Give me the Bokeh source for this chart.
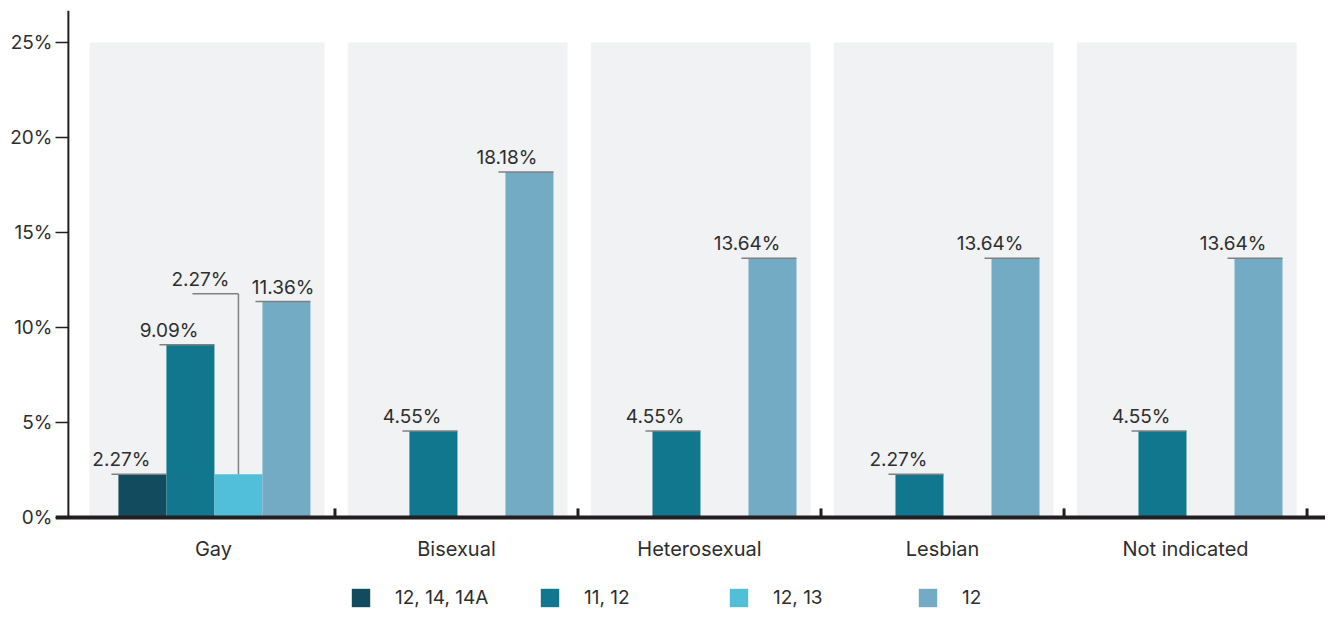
from bokeh.plotting import figure
from bokeh.models import Range1d, FixedTicker, Legend, LegendItem
from bokeh.core.properties import value
from bokeh.embed import file_html
from bokeh.resources import INLINE

categories = ["Gay", "Bisexual", "Heterosexual", "Lesbian", "Not indicated"]
series_names = ["12, 14, 14A", "11, 12", "12, 13", "12"]
s_12_14_14a = [2.27, None, None, None, None]
s_11_12 = [9.09, 4.55, 4.55, 2.27, 4.55]
s_12_13 = [2.27, None, None, None, None]
s_12 = [11.36, 18.18, 13.64, 13.64, 13.64]
y_ticks = [0, 5, 10, 15, 20, 25]
y_tick_labels = ["0%", "5%", "10%", "15%", "20%", "25%"]

series_values = [s_12_14_14a, s_11_12, s_12_13, s_12]
colors = ["#134b5e", "#10778f", "#52bfd9", "#74abc4"]

FONT = "Inter"
TXT = "#2e2e2e"
AX = "#231f20"

XPX = 1 / 243.0   # data units per pixel, x
YPX = 1 / 19.0    # data units per pixel, y
X0, X1 = -0.650, 4.576
Y1 = 26.68
Y0 = Y1 - 600 * YPX

p = figure(width=1325, height=610, output_backend="svg", toolbar_location=None,
           x_range=Range1d(X0, X1), y_range=Range1d(Y0, Y1),
           min_border_left=55, min_border_right=0, min_border_top=10, min_border_bottom=0)
p.outline_line_color = None
p.grid.visible = False
p.xaxis.visible = False
p.background_fill_color = "white"

# category panels
n = len(categories)
pl = [i - 0.447 - (0.063 if i == 0 else 0) for i in range(n)]
pr = [i + 0.457 for i in range(n)]
p.quad(left=pl, right=pr, bottom=[0] * n, top=[25] * n, fill_color="#f1f2f4", line_color=None)

bw = 48 * XPX
offsets = [(k - 1.5) * bw + 0.004 for k in range(4)]

legend_items = []
for k, vals in enumerate(series_values):
    xs = [i + offsets[k] for i, v in enumerate(vals) if v is not None]
    ys = [v for v in vals if v is not None]
    r = p.vbar(x=xs, top=ys, width=bw, bottom=0, fill_color=colors[k], line_color=None)
    legend_items.append(LegendItem(label=series_names[k], renderers=[r]))

# value labels with leader lines
lx0, lx1, ly, tx, ty, tt = [], [], [], [], [], []
vx0, vy0, vy1 = [], [], []
callout = {(2, 0): 9.5}        # series, category -> lift of label (data units)
shift = {(3, 0): 20}           # horizontal label shift, px
for k, vals in enumerate(series_values):
    for i, v in enumerate(vals):
        if v is None:
            continue
        cx = i + offsets[k]
        left, right = cx - bw / 2, cx + bw / 2
        label = f"{v:.2f}%"
        if (k, i) in callout:
            yl = v + callout[(k, i)]
            lx0.append(cx - 46 * XPX); lx1.append(cx); ly.append(yl)
            vx0.append(cx); vy0.append(v); vy1.append(yl)
            tx.append(cx - 9 * XPX); ty.append(yl); tt.append(label)
        else:
            lx0.append(left - 7 * XPX); lx1.append(right); ly.append(v)
            tx.append(right - 16 * XPX + shift.get((k, i), 0) * XPX); ty.append(v); tt.append(label)

p.segment(x0=lx0, x1=lx1, y0=ly, y1=ly, line_color="#808080", line_width=1.5)
p.segment(x0=vx0, x1=vx0, y0=vy0, y1=vy1, line_color="#808080", line_width=1.5)
p.text(x=tx, y=ty, text=tt, text_align="right", text_baseline="bottom", y_offset=-3,
       text_font=value(FONT), text_font_size="19px", text_color=TXT)

# axis lines and category boundary ticks
p.segment(x0=[-0.597], x1=[-0.597], y0=[0], y1=[Y1], line_color=AX, line_width=2)
p.segment(x0=[X0], x1=[X1], y0=[0], y1=[0], line_color=AX, line_width=4)
bx = [i + 0.5 for i in range(n)]
p.segment(x0=bx, x1=bx, y0=[0] * n, y1=[9 * YPX] * n, line_color=AX, line_width=3)

# category labels
p.text(x=list(range(n)), y=[0] * n, text=categories, text_align="center", text_baseline="middle",
       y_offset=32, text_font=value(FONT), text_font_size="20px", text_color=TXT)

# y axis
ya = p.yaxis[0]
ya.ticker = FixedTicker(ticks=y_ticks)
ya.major_label_overrides = {t: l for t, l in zip(y_ticks, y_tick_labels)}
ya.axis_line_color = None
ya.major_tick_in = 13
ya.major_tick_out = 0
ya.major_tick_line_color = AX
ya.major_tick_line_width = 1.5
ya.minor_tick_line_color = None
ya.major_label_standoff = 3
ya.major_label_text_font = FONT
ya.major_label_text_font_size = "19px"
ya.major_label_text_color = TXT

legend = Legend(items=legend_items, orientation="horizontal", location=(294, 1),
                glyph_width=23, glyph_height=23, label_standoff=23, spacing=0,
                label_width=143, margin=0, padding=0, border_line_color=None,
                background_fill_alpha=0, label_text_font=FONT, label_text_font_size="19px",
                label_text_color=TXT)
p.add_layout(legend, "center")

open("out.html", "w").write(file_html(p, INLINE))
